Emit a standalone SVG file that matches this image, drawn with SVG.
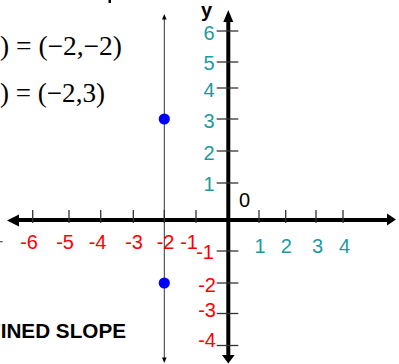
<svg xmlns="http://www.w3.org/2000/svg" width="399" height="364" viewBox="0 0 399 364">
<style>
.tick{stroke:#333;stroke-width:1.3}
.axis{stroke:#000;stroke-width:4}
.lbl{font-family:"Liberation Sans",Arial,sans-serif;font-size:20px}
.red{fill:#ff0000}
.teal{fill:#1a9b9b}
.eq{font-family:"Liberation Serif","Times New Roman",serif;font-size:27px;fill:#000}
.pt{fill:#0000ff}
</style>
<rect width="399" height="364" fill="#fff"/>
<g id="title-fragment"><rect x="108.5" y="0" width="2.5" height="3" fill="#000"/></g>
<g id="equations">
<text class="eq" x="0" y="55" textLength="122" lengthAdjust="spacingAndGlyphs">) = (−2,−2)</text>
<text class="eq" x="0" y="101.5" textLength="105" lengthAdjust="spacingAndGlyphs">) = (−2,3)</text>
</g>
<g id="connectors">
<line x1="164.3" y1="18" x2="164.3" y2="360" stroke="#333" stroke-width="1"/>
<polygon points="164.3,14 162,19.5 166.6,19.5" fill="#000"/>
<polygon points="164.3,363 162,357.5 166.6,357.5" fill="#000"/>
</g>
<g id="axes">
<line class="axis" x1="16" y1="220" x2="390" y2="220"/>
<polygon points="7,220.5 19,214.5 19,226.5" fill="#000"/>
<polygon points="396,219.5 387,213.5 387,225.5" fill="#000"/>
<line class="axis" x1="228.3" y1="19" x2="228.3" y2="356"/>
<polygon points="228.3,10 223.3,22 233.3,22" fill="#000"/>
<polygon points="228.3,363.5 222,355 234.6,355" fill="#000"/>
</g>
<g id="ticks">
<line class="tick" x1="216.7" x2="238.3" y1="31" y2="31"/>
<line class="tick" x1="216.7" x2="238.3" y1="62" y2="62"/>
<line class="tick" x1="216.7" x2="238.3" y1="88" y2="88"/>
<line class="tick" x1="216.7" x2="238.3" y1="119" y2="119"/>
<line class="tick" x1="216.7" x2="238.3" y1="151" y2="151"/>
<line class="tick" x1="216.7" x2="238.3" y1="183" y2="183"/>
<line class="tick" x1="216.7" x2="238.3" y1="251" y2="251"/>
<line class="tick" x1="216.7" x2="238.3" y1="283" y2="283"/>
<line class="tick" x1="216.7" x2="238.3" y1="313.5" y2="313.5"/>
<line class="tick" x1="216.7" x2="238.3" y1="345.5" y2="345.5"/>
<line class="tick" x1="32.7" x2="32.7" y1="210" y2="223"/>
<line class="tick" x1="69" x2="69" y1="210" y2="223"/>
<line class="tick" x1="100.7" x2="100.7" y1="210" y2="223"/>
<line class="tick" x1="133.3" x2="133.3" y1="210" y2="223"/>
<line class="tick" x1="164.3" x2="164.3" y1="210" y2="223"/>
<line class="tick" x1="196" x2="196" y1="210" y2="223"/>
<line class="tick" x1="259" x2="259" y1="210" y2="223"/>
<line class="tick" x1="285.7" x2="285.7" y1="210" y2="223"/>
<line class="tick" x1="316" x2="316" y1="210" y2="223"/>
<line class="tick" x1="343" x2="343" y1="210" y2="223"/>
<rect x="0" y="241" width="2.7" height="1.4" fill="#666"/>
</g>
<g id="y-labels" class="lbl" text-anchor="end">
<text class="teal" x="214.5" y="39.5">6</text>
<text class="teal" x="214.5" y="70">5</text>
<text class="teal" x="214.5" y="96.5">4</text>
<text class="teal" x="214.5" y="128">3</text>
<text class="teal" x="214.5" y="160">2</text>
<text class="teal" x="214.5" y="191">1</text>
<text class="red" x="214" y="259">-1</text>
<text class="red" x="216" y="291.5">-2</text>
<text class="red" x="216" y="317">-3</text>
<text class="red" x="216" y="347">-4</text>
</g>
<g id="x-labels" class="lbl">
<g text-anchor="end">
<text class="red" x="38" y="249">-6</text>
<text class="red" x="74" y="249">-5</text>
<text class="red" x="106.5" y="249">-4</text>
<text class="red" x="143" y="249">-3</text>
<text class="red" x="174.5" y="249">-2</text>
<text class="red" x="198" y="249">-1</text>
</g>
<g text-anchor="middle">
<text class="teal" x="260" y="253.3">1</text>
<text class="teal" x="286.3" y="253.3">2</text>
<text class="teal" x="317.5" y="253.3">3</text>
<text class="teal" x="344.5" y="253.3">4</text>
</g>
<text x="239" y="207" fill="#000">0</text>
<text x="201" y="16.5" fill="#000" font-weight="bold" font-size="20">y</text>
</g>
<g id="points">
<circle class="pt" cx="164.3" cy="119" r="5.6"/>
<circle class="pt" cx="164.3" cy="283" r="5.6"/>
</g>
<g id="caption">
<text x="-12" y="338.3" font-family="'Liberation Sans',Arial,sans-serif" font-weight="bold" font-size="21" textLength="138" lengthAdjust="spacingAndGlyphs" fill="#000">FINED SLOPE</text>
</g>
</svg>
